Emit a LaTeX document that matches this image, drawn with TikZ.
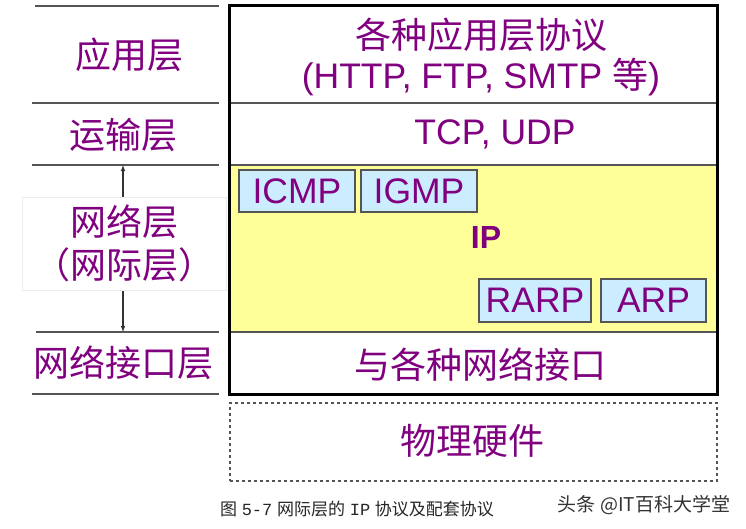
\documentclass[tikz,border=0pt]{standalone}
\usepackage{fontspec}
\setmainfont{Liberation Sans}
\setmonofont{Liberation Mono}
\newfontfamily\cjk{Noto Sans CJK SC}
\usetikzlibrary{positioning}
\definecolor{layerpurple}{RGB}{128,0,128}
\definecolor{ipyellow}{RGB}{255,255,153}
\definecolor{protoblue}{RGB}{204,236,255}
\definecolor{rulegray}{RGB}{85,85,85}
\def\lyr{\fontsize{36}{40}\selectfont}
\def\lyrwide{\fontsize{36}{43}\selectfont}
\def\lat{\fontsize{35.5}{40}\selectfont}
\tikzstyle{layername}=[text=layerpurple,font=\lyr\cjk,align=center,inner sep=0pt]
\tikzstyle{latintext}=[text=layerpurple,font=\lat,align=center,inner sep=0pt]
\tikzstyle{proto}=[draw=rulegray,fill=protoblue,text=layerpurple,font=\lat,
                   inner sep=0pt,minimum height=42pt,line width=1.2pt]
\tikzstyle{layerbox}=[draw=rulegray,rectangle,inner sep=0pt,minimum width=488pt,line width=1.2pt]
\tikzstyle{seprule}=[draw=rulegray,line width=1.5pt]

\begin{document}
\begin{tikzpicture}[x=1pt,y=-1pt,thick]
  \useasboundingbox[fill=white] (0,0) rectangle (746,529);

  % left column rules
  \draw[seprule] (35,6) -- (219,6);
  \draw[seprule] (32,103) -- (219,103);
  \draw[seprule] (32,165) -- (219,165);
  \draw[seprule] (36,332) -- (219,332);
  \draw[seprule] (32,394) -- (219,394);

  \node[layername] (appname) at (129,55) {应用层};
  \node[layername] (transname) at (123,135) {运输层};
  \node[layername] (linkname) at (123,363) {网络接口层};

  % network layer arrow from (123,165) to (123,332)
  \coordinate (nettop) at (123,165);
  \coordinate (netbot) at (123,332);
  \draw[<->,>=latex,black!80,line width=1.1pt] (nettop) -- (netbot);
  \node[draw=gray!15,fill=white,minimum width=204pt,minimum height=93pt,
        text=layerpurple,font=\lyrwide\cjk,align=center,inner sep=0pt] (netname) at (124,243.5)
        {网络层\\（网际层）};

  % application rectangle from (229,6) to (717,103)
  \node[layerbox,minimum height=97pt] (app) at (473,54.5) {};
  % transport rectangle from (229,103) to (717,165)
  \node[layerbox,minimum height=62pt] (trans) at (473,134) {};
  % network rectangle from (229,165) to (717,332)
  \node[layerbox,fill=ipyellow,minimum height=167pt] (net) at (473,248.5) {};
  % link rectangle from (229,332) to (717,394)
  \node[layerbox,minimum height=62pt] (link) at (473,363) {};

  \node[layername] (apptxt) at (481,57)
        {各种应用层协议\\{\normalfont\lat (HTTP, FTP, SMTP }等{\normalfont )}};
  \node[latintext] (transtxt) at (495,134) {TCP, UDP};
  \node[latintext,font=\fontsize{32}{36}\selectfont\bfseries] (iptxt) at (486,237) {IP};
  \node[layername] (linktxt) at (480,365) {与各种网络接口};

  \node[proto,minimum width=116pt] (icmp) at (297,191) {ICMP};
  \node[proto,minimum width=116pt] (igmp) at (419,191) {IGMP};
  \node[proto,minimum width=112pt,minimum height=43pt] (rarp) at (535,300.5) {RARP};
  \node[proto,minimum width=105pt,minimum height=43pt] (arp) at (653.5,300.5) {ARP};

  % outer box from (229,6) to (717,394)
  \draw[black,line width=3pt] (229,6) rectangle (717,394);

  % hardware rectangle from (230,403) to (717,481)
  \node[draw=rulegray,dashed,line width=1.2pt,rectangle,minimum width=487pt,minimum height=78pt,
        inner sep=0pt] (hw) at (473.5,442) {};
  \node[layername] (hwtxt) at (472,441) {物理硬件};

  \node[font=\fontsize{17}{17}\selectfont,text=black!85,inner sep=0pt] (caption) at (357,509)
        {{\cjk 图} {\ttfamily 5-7} {\cjk 网际层的} {\ttfamily IP} {\cjk 协议及配套协议}};
  \node[font=\fontsize{19}{19}\selectfont\cjk,text=black!80,inner sep=0pt] (mark) at (644,505)
        {头条 @IT百科大学堂};
\end{tikzpicture}
\end{document}
